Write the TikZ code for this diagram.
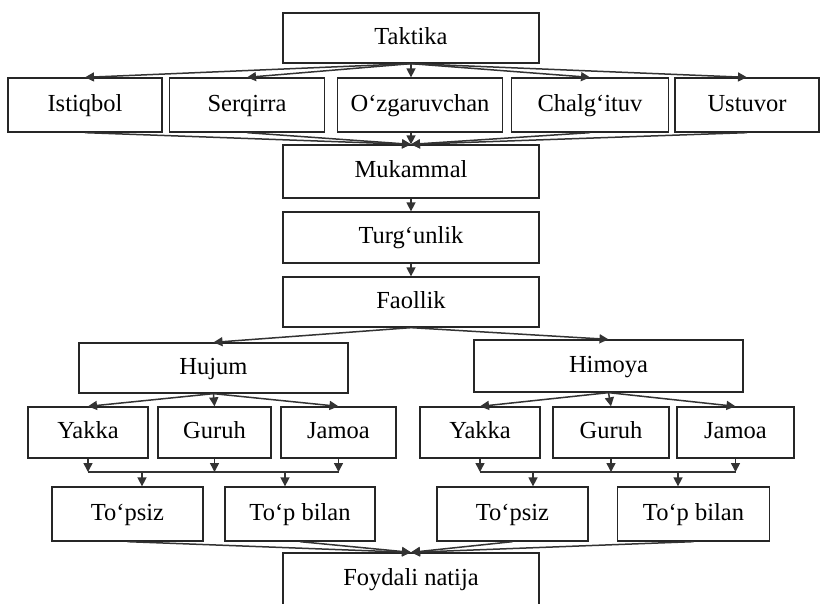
\documentclass[tikz,border=0pt]{standalone}
\usepackage{fontspec}
\setmainfont{Liberation Serif}
\usetikzlibrary{arrows.meta,positioning}
\begin{document}
\begin{tikzpicture}[
  x=1pt, y=-1pt,
  font=\fontsize{24.5}{28}\selectfont,
  >={Triangle[length=9pt,width=9pt]},
  blk/.style={draw=black!85, line width=1.3pt, inner sep=0pt, minimum height=51pt, align=center,
              text height=17pt, text depth=5pt},
  flow/.style={->, line width=1.5pt, draw=black!80},
  bus/.style={line width=1.5pt, draw=black!80},
]
\useasboundingbox (0,0) rectangle (821,603);
% ---- top ----
\node[blk, minimum width=256pt, minimum height=50pt] (takt) at (411,38) {Taktika};

% ---- five kinds ----
\node[blk, minimum width=154pt, minimum height=54pt] (istq) at (85,105)  {Istiqbol};
\node[blk, minimum width=155pt, minimum height=54pt] (serq) at (247,105) {Serqirra};
\node[blk, minimum width=165pt, minimum height=54pt] (ozg)  at (420,105) {O‘zgaruvchan};
\node[blk, minimum width=157pt, minimum height=54pt] (chal) at (590,105) {Chalg‘ituv};
\node[blk, minimum width=144pt, minimum height=54pt] (ustv) at (747,105) {Ustuvor};

% ---- spine ----
\node[blk, minimum width=256pt, minimum height=53pt] (mukm) at (411,171.5) {Mukammal};
\node[blk, minimum width=256pt] (turg) at (411,237.5) {Turg‘unlik};
\node[blk, minimum width=256pt, minimum height=50pt] (faol) at (411,302) {Faollik};

% ---- attack / defence ----
\node[blk, minimum width=269pt, minimum height=50pt] (hujm) at (213.5,368) {Hujum};
\node[blk, minimum width=269pt, minimum height=52pt] (himy) at (608.5,366) {Himoya};

% ---- forms ----
\node[blk, minimum width=120pt] (yakL) at (88,432.5)    {Yakka};
\node[blk, minimum width=113pt] (gurL) at (214.5,432.5) {Guruh};
\node[blk, minimum width=115pt] (jamL) at (338.5,432.5) {Jamoa};
\node[blk, minimum width=120pt] (yakR) at (480,432.5)   {Yakka};
\node[blk, minimum width=116pt] (gurR) at (611,432.5)   {Guruh};
\node[blk, minimum width=117pt] (jamR) at (735.5,432.5) {Jamoa};

% ---- with / without ball ----
\node[blk, minimum width=151pt, minimum height=54pt] (tpsL) at (127.5,514) {To‘psiz};
\node[blk, minimum width=150pt, minimum height=54pt] (tpbL) at (300,514)   {To‘p bilan};
\node[blk, minimum width=151pt, minimum height=54pt] (tpsR) at (512.5,514) {To‘psiz};
\node[blk, minimum width=152pt, minimum height=54pt] (tpbR) at (693.5,514) {To‘p bilan};

% ---- result ----
\node[blk, minimum width=256pt, minimum height=52pt] (foyd) at (411,579) {Foydali natija};

% ---- edges: fan out / fan in ----
\foreach \b in {istq,serq,chal,ustv}{
  \draw[flow] (takt.south) -- (\b.north);
  \draw[flow] (\b.south) -- (mukm.north);
}
\draw[flow] (takt.south) -- (takt.south |- ozg.north);
\draw[flow] (mukm.north |- ozg.south) -- (mukm.north);
\draw[flow] (mukm) -- (turg);
\draw[flow] (turg) -- (faol);
\draw[flow] (faol.south) -- (hujm.north);
\draw[flow] (faol.south) -- (himy.north);
\foreach \b in {yakL,gurL,jamL}{
  \draw[flow] (hujm.south) -- (\b.north);
}
\foreach \b in {yakR,gurR,jamR}{
  \draw[flow] (himy.south) -- (\b.north);
}

% ---- buses ----
\coordinate (busy) at (0,472);
\draw[bus] (yakL.south |- busy) -- (jamL.south |- busy);
\draw[bus] (yakR.south |- busy) -- (jamR.south |- busy);
\foreach \b in {yakL,gurL,jamL,yakR,gurR,jamR}{
  \draw[flow] (\b.south) -- (\b.south |- busy);
}
\coordinate (dL1) at (142,472);
\coordinate (dL2) at (285,472);
\coordinate (dR1) at (533,472);
\coordinate (dR2) at (678,472);
\foreach \d/\t in {dL1/tpsL,dL2/tpbL,dR1/tpsR,dR2/tpbR}{
  \draw[flow] (\d) -- (\d |- \t.north);
  \draw[flow] (\t.south) -- (foyd.north);
}
\end{tikzpicture}
\end{document}
